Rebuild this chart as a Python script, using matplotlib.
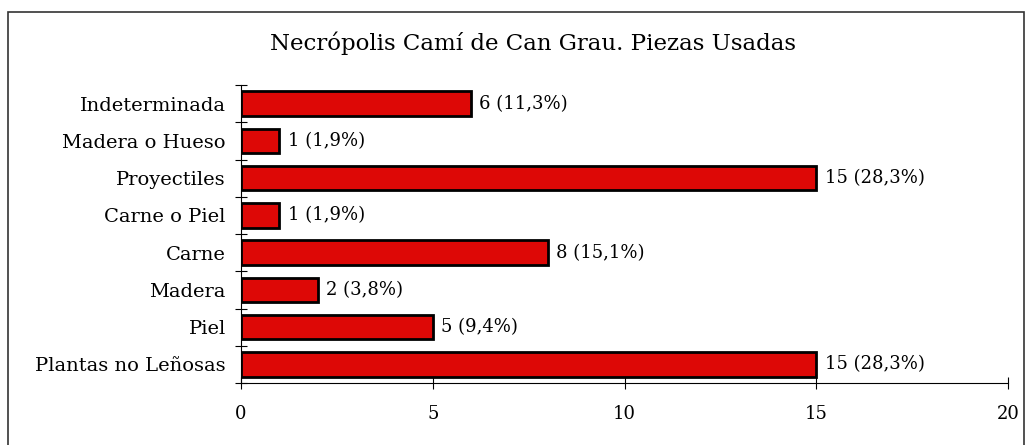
import matplotlib
matplotlib.use("Agg")
import matplotlib.pyplot as plt
from matplotlib.patches import Rectangle

categories = ["Plantas no Leñosas", "Piel", "Madera", "Carne", "Carne o Piel",
              "Proyectiles", "Madera o Hueso", "Indeterminada"]
values = [15, 5, 2, 8, 1, 15, 1, 6]
labels = ["15 (28,3%)", "5 (9,4%)", "2 (3,8%)", "8 (15,1%)", "1 (1,9%)",
          "15 (28,3%)", "1 (1,9%)", "6 (11,3%)"]
xticks = [0, 5, 10, 15, 20]
title = "Necrópolis Camí de Can Grau. Piezas Usadas"

plt.rcParams['font.family'] = ['DejaVu Serif']

fig = plt.figure(figsize=(10.31, 4.45), dpi=100)
ax = fig.add_axes([241/1031, 1-383/445, (1008-241)/1031, (383-85)/445])

y = list(range(len(categories)))
ax.barh(y, values, height=0.66, color="#dd0806", edgecolor="black", linewidth=2, zorder=3)
for yi, v, lab in zip(y, values, labels):
    ax.annotate(lab, (v, yi), xytext=(6, 0), textcoords="offset points",
                va="center", ha="left", fontsize=13)

ax.set_xlim(0, 20)
ax.set_ylim(-0.5, len(categories) - 0.5)
ax.set_xticks(xticks)
ax.set_xticklabels([str(t) for t in xticks], fontsize=13)
ax.set_yticks([i - 0.5 for i in range(len(categories) + 1)])
ax.set_yticklabels([])
ax.set_yticks(y, minor=True)
ax.set_yticklabels(categories, minor=True, fontsize=14)
ax.tick_params(axis="y", which="minor", length=0, pad=11)
ax.tick_params(axis="y", which="major", direction="inout", length=8, width=0.8)
ax.tick_params(axis="x", direction="inout", length=8, width=0.8, pad=12)
for s in ["top", "right"]:
    ax.spines[s].set_visible(False)
ax.spines["left"].set_linewidth(0.8)
ax.spines["bottom"].set_linewidth(0.8)

fig.text(533/1031, 1-43/445, title, ha="center", va="center", fontsize=16.5)
fig.patches.append(Rectangle((8/1031, -0.05), (1024-8)/1031, 1.05-12/445,
                             transform=fig.transFigure, fill=False,
                             edgecolor="#333333", linewidth=1.2))

fig.savefig("out.png", dpi=100)
